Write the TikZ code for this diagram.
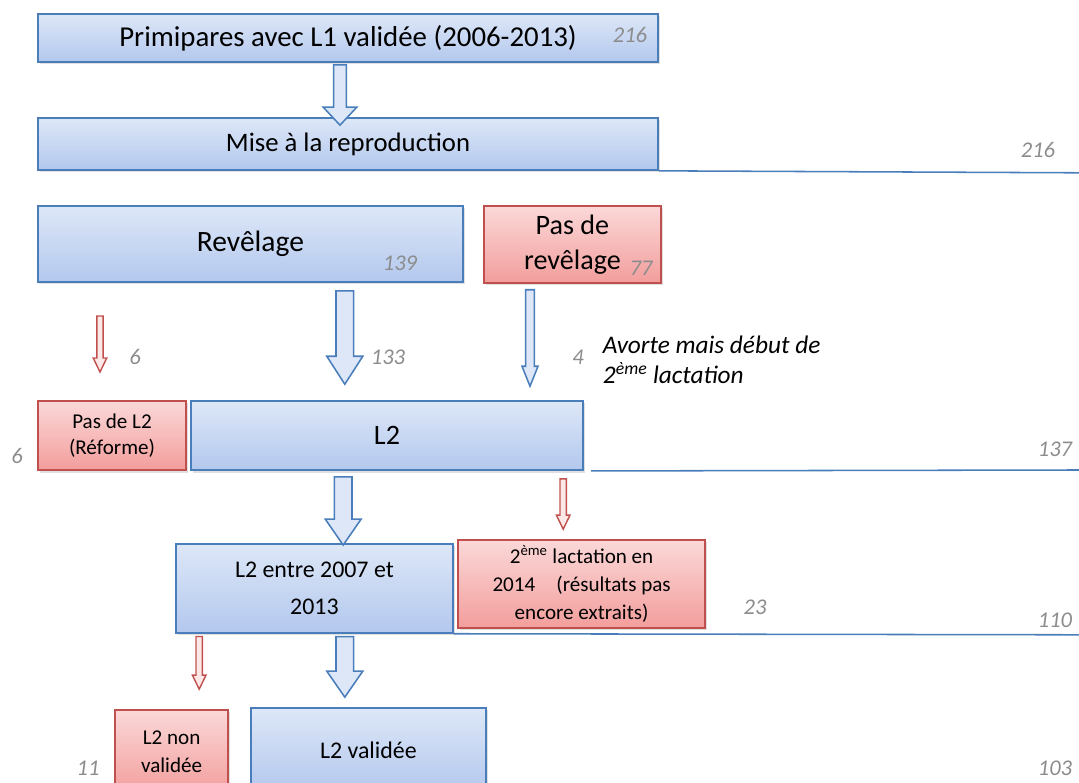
\documentclass[tikz,border=0pt]{standalone}
\usepackage{fontspec}
\setmainfont{Carlito}
\usetikzlibrary{calc,shadows}
\definecolor{boxblue}{HTML}{4A7EBB}
\definecolor{fillbluetop}{HTML}{DDE7F7}
\definecolor{fillbluebot}{HTML}{B3C8EE}
\definecolor{boxred}{HTML}{C0504D}
\definecolor{fillredtop}{HTML}{FBD8D8}
\definecolor{fillredbot}{HTML}{F29E9C}
\definecolor{countgray}{HTML}{8C8C8C}
% hollow block arrow: style, start, end, half shaft, half head, head length
\newcommand{\fatarrow}[6]{%
  \path[#1] let \p1=(#2), \p2=(#3) in
    (\x1-#4,\y1) -- (\x1-#4,\y2+#6) -- (\x1-#5,\y2+#6) -- (\x1,\y2)
    -- (\x1+#5,\y2+#6) -- (\x1+#4,\y2+#6) -- (\x1+#4,\y1) -- cycle;}
\tikzset{
  bluebox/.style={draw=boxblue, line width=1.2pt, top color=fillbluetop, bottom color=fillbluebot,
    drop shadow={opacity=0.25, shadow xshift=0.04, shadow yshift=-0.06}, align=center, inner sep=0pt},
  redbox/.style={draw=boxred, line width=1.2pt, top color=fillredtop, bottom color=fillredbot,
    drop shadow={opacity=0.25, shadow xshift=0.04, shadow yshift=-0.06}, align=center, inner sep=0pt},
  bluearrow/.style={draw=boxblue, line width=1.1pt, fill=fillbluetop},
  redarrow/.style={draw=boxred, line width=1pt, fill=fillredtop!60},
  count/.style={text=countgray, font=\fontsize{16}{19}\selectfont\itshape},
  rule/.style={draw=boxblue, line width=1.1pt}
}
\begin{document}
\begin{tikzpicture}
\useasboundingbox (0,0) rectangle (26.975,-19.575);
% boxes
\node[bluebox, minimum width=15.5cm, minimum height=1.2cm, font=\fontsize{20.5}{24}\selectfont] (prim) at (8.7,-0.95) {Primipares avec L1 validée (2006-2013)};
\node[bluebox, minimum width=15.5cm, minimum height=1.3cm, font=\fontsize{19}{22}\selectfont] (mise) at (8.7,-3.6) {Mise à la reproduction};
\node[bluebox, minimum width=10.625cm, minimum height=1.9cm, font=\fontsize{21}{24}\selectfont] (rev) at (6.26,-6.1) {Revêlage};
\node[redbox, minimum width=4.425cm, minimum height=1.925cm, font=\fontsize{20}{25}\selectfont] (pasrev) at (14.31,-6.11) {Pas de\\revêlage};
\node[redbox, minimum width=3.7cm, minimum height=1.725cm, font=\fontsize{15}{19}\selectfont] (pasL2) at (2.8,-10.89) {Pas de L2\\(Réforme)};
\node[bluebox, minimum width=9.8cm, minimum height=1.725cm, font=\fontsize{20}{24}\selectfont] (L2) at (9.675,-10.89) {L2};
\node[bluebox, minimum width=6.925cm, minimum height=2.225cm, font=\fontsize{17}{26}\selectfont] (entre) at (7.86,-14.71) {L2 entre 2007 et\\2013};
\node[redbox, minimum width=6.175cm, minimum height=2.2cm, font=\fontsize{15}{20}\selectfont] (deux) at (14.54,-14.6) {2\textsuperscript{ème} lactation en\\2014\quad(résultats pas\\encore extraits)};
\node[redbox, minimum width=2.825cm, minimum height=2.1cm, font=\fontsize{15}{20}\selectfont] (nonval) at (4.29,-18.8) {L2 non\\validée};
\node[bluebox, minimum width=5.875cm, minimum height=2.1cm, font=\fontsize{17}{21}\selectfont] (val) at (9.21,-18.75) {L2 validée};
% counts
\node[count] (c216a) at (15.75,-0.875) {216};
\node[count] (c216b) at (25.95,-3.75) {216};
\node[count] (c139) at (10.0,-6.575) {139};
\node[count] (c77) at (16.03,-6.7) {77};
\node[count] (c6a) at (3.375,-8.925) {6};
\node[count] (c133) at (9.7,-8.925) {133};
\node[count] (c4) at (14.45,-8.925) {4};
\node[anchor=west, align=left, font=\fontsize{18}{21}\selectfont\itshape] (avorte) at (14.95,-9.0) {Avorte mais début de\\2\textsuperscript{ème} lactation};
\node[count] (c6b) at (0.425,-11.4) {6};
\node[count] (c137) at (26.375,-11.225) {137};
\node[count] (c23) at (18.875,-15.175) {23};
\node[count] (c110) at (26.375,-15.5) {110};
\node[count] (c11) at (2.2,-19.2) {11};
\node[count] (c103) at (26.375,-19.2) {103};
% rules to the right edge
\coordinate (edge1) at (26.975,-4.32);
\coordinate (edge2) at (26.975,-11.75);
\coordinate (edge3) at (26.975,-15.87);
\draw[rule] (mise.south east) -- (edge1);
\draw[rule] ($(L2.south east)+(0.18,0)$) -- (edge2);
\draw[rule] (entre.south east) -- (edge3);
% arrow columns
\coordinate (xa) at (8.5,0);
\coordinate (xb) at (8.62,0);
\coordinate (xc) at (13.25,0);
\coordinate (xd) at (8.58,0);
\coordinate (xe) at (14.08,0);
\coordinate (xf) at (4.98,0);
\coordinate (redtop) at (2.5,-7.9);
\coordinate (redbot) at (2.5,-9.3);
% arrows
\fatarrow{bluearrow}{$(prim.south -| xa)+(0,-0.05)$}{$(mise.north -| xa)+(0,-0.2)$}{0.16cm}{0.42cm}{0.45cm}
\fatarrow{redarrow}{redtop}{redbot}{0.08cm}{0.17cm}{0.35cm}
\fatarrow{bluearrow}{$(rev.south -| xb)+(0,-0.2)$}{$(L2.north -| xb)+(0,0.4)$}{0.22cm}{0.45cm}{0.7cm}
\fatarrow{bluearrow}{$(pasrev.south -| xc)+(0,-0.15)$}{$(L2.north -| xc)+(0,0.35)$}{0.11cm}{0.2cm}{0.5cm}
\fatarrow{bluearrow}{$(L2.south -| xd)+(0,-0.15)$}{$(entre.north -| xd)+(0,-0.05)$}{0.22cm}{0.45cm}{0.65cm}
\fatarrow{redarrow}{$(L2.south -| xe)+(0,-0.2)$}{$(deux.north -| xe)+(0,0.25)$}{0.08cm}{0.17cm}{0.35cm}
\fatarrow{redarrow}{$(entre.south -| xf)+(0,-0.07)$}{$(nonval.north -| xf)+(0,0.5)$}{0.08cm}{0.17cm}{0.35cm}
\fatarrow{bluearrow}{$(entre.south -| xb)+(0,-0.07)$}{$(val.north -| xb)+(0,0.25)$}{0.22cm}{0.45cm}{0.65cm}
\end{tikzpicture}
\end{document}
